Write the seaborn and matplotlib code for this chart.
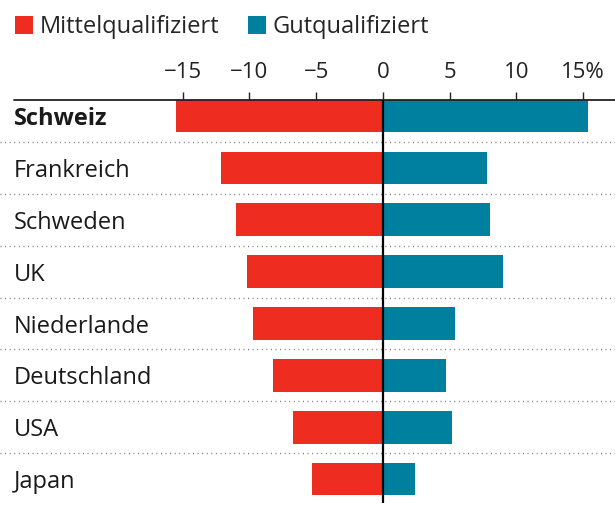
import pandas as pd
import matplotlib
matplotlib.use("Agg")
import matplotlib.pyplot as plt
import matplotlib.transforms as mtransforms
import seaborn as sns

# Values (percent change)
countries = ["Schweiz", "Frankreich", "Schweden", "UK", "Niederlande",
             "Deutschland", "USA", "Japan"]
mittel = [-15.5, -12.1, -11.0, -10.2, -9.7, -8.2, -6.7, -5.3]
gut = [15.4, 7.8, 8.0, 9.0, 5.4, 4.7, 5.2, 2.4]
groups = ["Mittelqualifiziert", "Gutqualifiziert"]
tick_vals = [-15, -10, -5, 0, 5, 10, 15]
tick_labels = ["\u221215", "\u221210", "\u22125", "0", "5", "10", "15%"]

RED = "#EE2C20"
BLUE = "#00809F"

df = pd.DataFrame({
    "country": countries * 2,
    "group": [groups[0]] * len(countries) + [groups[1]] * len(countries),
    "value": mittel + gut,
})

sns.set_style("white")
plt.rcParams["font.family"] = ["Open Sans", "DejaVu Sans"]

fig = plt.figure(figsize=(6.15, 5.17), dpi=100)
ax = fig.add_axes([0, 0.0271, 1, 0.7795])

sns.barplot(data=df, y="country", x="value", hue="group", order=countries,
            hue_order=groups, palette=[RED, BLUE], dodge=False, width=0.63,
            orient="h", ax=ax, saturation=1, linewidth=0)

ax.set_xlim(-28.7, 17.4)
ax.set_ylim(7.46, -0.31)
ax.set_xlabel("")
ax.set_ylabel("")
ax.set_yticks([])
for s in ax.spines.values():
    s.set_visible(False)

ax.xaxis.tick_top()
ax.set_xticks(tick_vals)
ax.set_xticklabels(tick_labels, fontsize=16, color="#222222")
ax.tick_params(axis="x", length=6, width=1, pad=6, color="#222222")

trans = mtransforms.blended_transform_factory(ax.transAxes, ax.transData)
# top axis line
ax.plot([14 / 615, 1], [-0.31, -0.31], color="#222222", lw=1.3,
        transform=trans, clip_on=False, zorder=4)
# zero line
ax.axvline(0, color="black", lw=1.6, zorder=5)

# dotted separators
for i in range(len(countries) - 1):
    ax.plot([0, 1], [i + 0.5, i + 0.5], color="#777777", lw=1.0,
            ls=(0, (0.7, 2.6)), transform=trans, zorder=1)

# country labels (nudged down slightly to sit centred on the bars)
label_trans = trans + mtransforms.ScaledTranslation(0, -3 / 100,
                                                    fig.dpi_scale_trans)
for i, c in enumerate(countries):
    ax.text(14 / 615, i, c, transform=label_trans, ha="left", va="center",
            fontsize=17, color="#1a1a1a",
            fontweight="bold" if c == "Schweiz" else "normal")

sns.move_legend(ax, "upper left", bbox_to_anchor=(0.0, 1.0),
                bbox_transform=fig.transFigure, ncol=2, frameon=False,
                title=None, handlelength=0.75, handleheight=0.75,
                handletextpad=0.3, columnspacing=1.2, fontsize=17,
                borderaxespad=0.25)

fig.savefig("out.png", dpi=100)
